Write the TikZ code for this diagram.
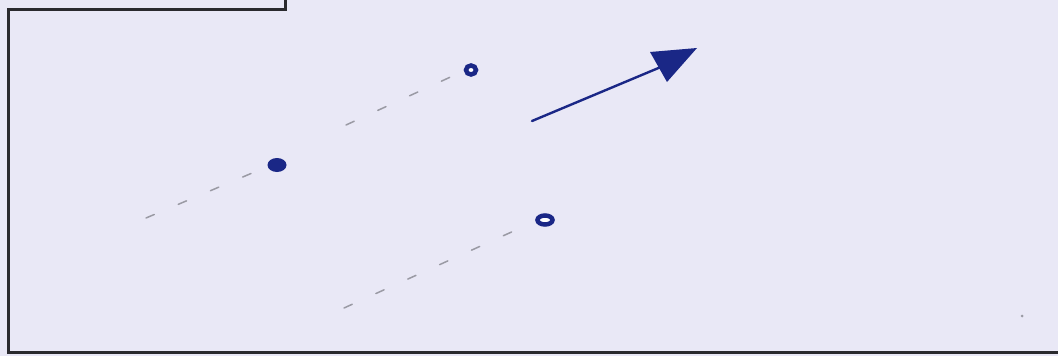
\documentclass[tikz,border=0pt]{standalone}
\definecolor{paper}{HTML}{E9E8F6}
\definecolor{ink}{HTML}{1A2786}
\definecolor{trail}{HTML}{9A9AA4}
\definecolor{frame}{HTML}{2A2A2E}
\tikzset{
  panel/.style={draw=frame, line width=3pt, line join=miter},
  trailline/.style={draw=trail, line width=1.5pt, dash pattern=on 9pt off 26pt, line cap=round},
  soliddot/.style={ellipse, fill=ink, inner sep=0pt},
  ringdot/.style={ellipse, draw=ink, line width=4.5pt, fill=white, inner sep=0pt},
  motion/.style={draw=ink, line width=2.4pt, line cap=round},
}
\usetikzlibrary{shapes.geometric}
\begin{document}
\begin{tikzpicture}[x=1pt,y=-1pt]
\fill[paper] (0,0) rectangle (1058,356);
\useasboundingbox (0,0) rectangle (1058,356);
% panel frame
\draw[panel] (285,0) -- (285,9) -- (8,9) -- (8,352) -- (1058,352);
% balls
\node[soliddot, minimum width=19pt, minimum height=14pt] (b1) at (277,165) {};
\node[ringdot, minimum width=10pt, minimum height=9pt] (b2) at (471,70) {};
\node[ringdot, minimum width=15pt, minimum height=9pt] (b3) at (545,220) {};
% trail start points
\coordinate (t1) at (146,218);
\coordinate (t2) at (346,125);
\coordinate (t3) at (344,308);
\draw[trailline] (t1) -- ([shift={(-4pt,3pt)}]b1.south west);
\draw[trailline] (t2) -- ([shift={(-4pt,3pt)}]b2.south west);
\draw[trailline] (t3) -- ([shift={(-4pt,3pt)}]b3.south west);
% motion arrow
\coordinate (a0) at (532,121);
\coordinate (a1) at (668,64);
\draw[motion] (a0) -- (a1);
\fill[ink] (650,52) -- (697,48) -- (667,82) -- cycle;
% stray mark
\fill[trail] (1022,316) circle (1.5pt);
\end{tikzpicture}
\end{document}
